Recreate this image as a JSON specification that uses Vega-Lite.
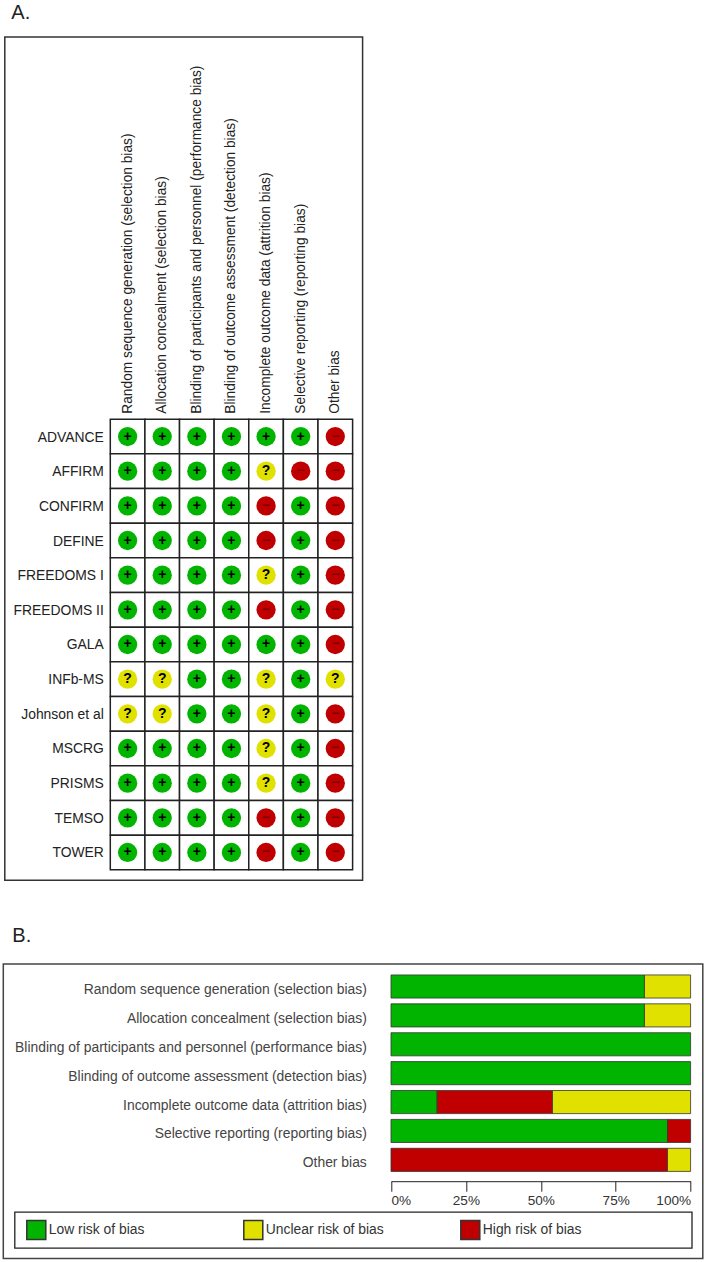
{
"$schema":"https://vega.github.io/schema/vega-lite/v6.json",
"padding":{"left":2.3,"top":3,"right":0,"bottom":0},
"background":"white",
"spacing":44,
"resolve":{"scale":{"color":"independent","fill":"independent"},"legend":{"color":"independent"}},
"config":{"view":{"stroke":null},"font":"Liberation Sans"},
"datasets":{
"box":[{"a":0,"b":1}],
"judge":[
{"s":"ADVANCE","d":"Random sequence generation (selection bias)","r":"+"},{"s":"ADVANCE","d":"Allocation concealment (selection bias)","r":"+"},{"s":"ADVANCE","d":"Blinding of participants and personnel (performance bias)","r":"+"},{"s":"ADVANCE","d":"Blinding of outcome assessment (detection bias)","r":"+"},{"s":"ADVANCE","d":"Incomplete outcome data (attrition bias)","r":"+"},{"s":"ADVANCE","d":"Selective reporting (reporting bias)","r":"+"},{"s":"ADVANCE","d":"Other bias","r":"−"},
{"s":"AFFIRM","d":"Random sequence generation (selection bias)","r":"+"},{"s":"AFFIRM","d":"Allocation concealment (selection bias)","r":"+"},{"s":"AFFIRM","d":"Blinding of participants and personnel (performance bias)","r":"+"},{"s":"AFFIRM","d":"Blinding of outcome assessment (detection bias)","r":"+"},{"s":"AFFIRM","d":"Incomplete outcome data (attrition bias)","r":"?"},{"s":"AFFIRM","d":"Selective reporting (reporting bias)","r":"−"},{"s":"AFFIRM","d":"Other bias","r":"−"},
{"s":"CONFIRM","d":"Random sequence generation (selection bias)","r":"+"},{"s":"CONFIRM","d":"Allocation concealment (selection bias)","r":"+"},{"s":"CONFIRM","d":"Blinding of participants and personnel (performance bias)","r":"+"},{"s":"CONFIRM","d":"Blinding of outcome assessment (detection bias)","r":"+"},{"s":"CONFIRM","d":"Incomplete outcome data (attrition bias)","r":"−"},{"s":"CONFIRM","d":"Selective reporting (reporting bias)","r":"+"},{"s":"CONFIRM","d":"Other bias","r":"−"},
{"s":"DEFINE","d":"Random sequence generation (selection bias)","r":"+"},{"s":"DEFINE","d":"Allocation concealment (selection bias)","r":"+"},{"s":"DEFINE","d":"Blinding of participants and personnel (performance bias)","r":"+"},{"s":"DEFINE","d":"Blinding of outcome assessment (detection bias)","r":"+"},{"s":"DEFINE","d":"Incomplete outcome data (attrition bias)","r":"−"},{"s":"DEFINE","d":"Selective reporting (reporting bias)","r":"+"},{"s":"DEFINE","d":"Other bias","r":"−"},
{"s":"FREEDOMS I","d":"Random sequence generation (selection bias)","r":"+"},{"s":"FREEDOMS I","d":"Allocation concealment (selection bias)","r":"+"},{"s":"FREEDOMS I","d":"Blinding of participants and personnel (performance bias)","r":"+"},{"s":"FREEDOMS I","d":"Blinding of outcome assessment (detection bias)","r":"+"},{"s":"FREEDOMS I","d":"Incomplete outcome data (attrition bias)","r":"?"},{"s":"FREEDOMS I","d":"Selective reporting (reporting bias)","r":"+"},{"s":"FREEDOMS I","d":"Other bias","r":"−"},
{"s":"FREEDOMS II","d":"Random sequence generation (selection bias)","r":"+"},{"s":"FREEDOMS II","d":"Allocation concealment (selection bias)","r":"+"},{"s":"FREEDOMS II","d":"Blinding of participants and personnel (performance bias)","r":"+"},{"s":"FREEDOMS II","d":"Blinding of outcome assessment (detection bias)","r":"+"},{"s":"FREEDOMS II","d":"Incomplete outcome data (attrition bias)","r":"−"},{"s":"FREEDOMS II","d":"Selective reporting (reporting bias)","r":"+"},{"s":"FREEDOMS II","d":"Other bias","r":"−"},
{"s":"GALA","d":"Random sequence generation (selection bias)","r":"+"},{"s":"GALA","d":"Allocation concealment (selection bias)","r":"+"},{"s":"GALA","d":"Blinding of participants and personnel (performance bias)","r":"+"},{"s":"GALA","d":"Blinding of outcome assessment (detection bias)","r":"+"},{"s":"GALA","d":"Incomplete outcome data (attrition bias)","r":"+"},{"s":"GALA","d":"Selective reporting (reporting bias)","r":"+"},{"s":"GALA","d":"Other bias","r":"−"},
{"s":"INFb-MS","d":"Random sequence generation (selection bias)","r":"?"},{"s":"INFb-MS","d":"Allocation concealment (selection bias)","r":"?"},{"s":"INFb-MS","d":"Blinding of participants and personnel (performance bias)","r":"+"},{"s":"INFb-MS","d":"Blinding of outcome assessment (detection bias)","r":"+"},{"s":"INFb-MS","d":"Incomplete outcome data (attrition bias)","r":"?"},{"s":"INFb-MS","d":"Selective reporting (reporting bias)","r":"+"},{"s":"INFb-MS","d":"Other bias","r":"?"},
{"s":"Johnson et al","d":"Random sequence generation (selection bias)","r":"?"},{"s":"Johnson et al","d":"Allocation concealment (selection bias)","r":"?"},{"s":"Johnson et al","d":"Blinding of participants and personnel (performance bias)","r":"+"},{"s":"Johnson et al","d":"Blinding of outcome assessment (detection bias)","r":"+"},{"s":"Johnson et al","d":"Incomplete outcome data (attrition bias)","r":"?"},{"s":"Johnson et al","d":"Selective reporting (reporting bias)","r":"+"},{"s":"Johnson et al","d":"Other bias","r":"−"},
{"s":"MSCRG","d":"Random sequence generation (selection bias)","r":"+"},{"s":"MSCRG","d":"Allocation concealment (selection bias)","r":"+"},{"s":"MSCRG","d":"Blinding of participants and personnel (performance bias)","r":"+"},{"s":"MSCRG","d":"Blinding of outcome assessment (detection bias)","r":"+"},{"s":"MSCRG","d":"Incomplete outcome data (attrition bias)","r":"?"},{"s":"MSCRG","d":"Selective reporting (reporting bias)","r":"+"},{"s":"MSCRG","d":"Other bias","r":"−"},
{"s":"PRISMS","d":"Random sequence generation (selection bias)","r":"+"},{"s":"PRISMS","d":"Allocation concealment (selection bias)","r":"+"},{"s":"PRISMS","d":"Blinding of participants and personnel (performance bias)","r":"+"},{"s":"PRISMS","d":"Blinding of outcome assessment (detection bias)","r":"+"},{"s":"PRISMS","d":"Incomplete outcome data (attrition bias)","r":"?"},{"s":"PRISMS","d":"Selective reporting (reporting bias)","r":"+"},{"s":"PRISMS","d":"Other bias","r":"−"},
{"s":"TEMSO","d":"Random sequence generation (selection bias)","r":"+"},{"s":"TEMSO","d":"Allocation concealment (selection bias)","r":"+"},{"s":"TEMSO","d":"Blinding of participants and personnel (performance bias)","r":"+"},{"s":"TEMSO","d":"Blinding of outcome assessment (detection bias)","r":"+"},{"s":"TEMSO","d":"Incomplete outcome data (attrition bias)","r":"−"},{"s":"TEMSO","d":"Selective reporting (reporting bias)","r":"+"},{"s":"TEMSO","d":"Other bias","r":"−"},
{"s":"TOWER","d":"Random sequence generation (selection bias)","r":"+"},{"s":"TOWER","d":"Allocation concealment (selection bias)","r":"+"},{"s":"TOWER","d":"Blinding of participants and personnel (performance bias)","r":"+"},{"s":"TOWER","d":"Blinding of outcome assessment (detection bias)","r":"+"},{"s":"TOWER","d":"Incomplete outcome data (attrition bias)","r":"−"},{"s":"TOWER","d":"Selective reporting (reporting bias)","r":"+"},{"s":"TOWER","d":"Other bias","r":"−"}
],
"summary":[
{"d":"Random sequence generation (selection bias)","risk":"Low risk of bias","share":0.846,"rank":1},{"d":"Random sequence generation (selection bias)","risk":"Unclear risk of bias","share":0.154,"rank":3},
{"d":"Allocation concealment (selection bias)","risk":"Low risk of bias","share":0.846,"rank":1},{"d":"Allocation concealment (selection bias)","risk":"Unclear risk of bias","share":0.154,"rank":3},
{"d":"Blinding of participants and personnel (performance bias)","risk":"Low risk of bias","share":1,"rank":1},
{"d":"Blinding of outcome assessment (detection bias)","risk":"Low risk of bias","share":1,"rank":1},
{"d":"Incomplete outcome data (attrition bias)","risk":"Low risk of bias","share":0.154,"rank":1},{"d":"Incomplete outcome data (attrition bias)","risk":"High risk of bias","share":0.385,"rank":2},{"d":"Incomplete outcome data (attrition bias)","risk":"Unclear risk of bias","share":0.461,"rank":3},
{"d":"Selective reporting (reporting bias)","risk":"Low risk of bias","share":0.923,"rank":1},{"d":"Selective reporting (reporting bias)","risk":"High risk of bias","share":0.077,"rank":2},
{"d":"Other bias","risk":"High risk of bias","share":0.923,"rank":2},{"d":"Other bias","risk":"Unclear risk of bias","share":0.077,"rank":3}
]
},
"vconcat":[
{
"width":360,"height":844,
"title":{"text":"A.","anchor":"start","frame":"group","dx":8,"offset":13,"font":"Liberation Sans","fontSize":20,"fontWeight":"normal","color":"#222222"},
"resolve":{"scale":{"x":"independent","y":"independent"}},
"layer":[
{"data":{"name":"box"},
"mark":{"type":"rect","fill":null,"stroke":"#333333","strokeWidth":1.5},
"encoding":{
"x":{"field":"a","type":"quantitative","axis":null,"scale":{"domain":[0,1],"range":[1.5,359.3]}},
"x2":{"field":"b"},
"y":{"field":"a","type":"quantitative","axis":null,"scale":{"domain":[0,1],"range":[0,843.2]}},
"y2":{"field":"b"}}},
{"data":{"name":"judge"},
"encoding":{
"x":{"field":"d","type":"nominal","sort":null,"scale":{"type":"band","range":[107,349.3],"paddingInner":0,"paddingOuter":0},
"axis":{"orient":"top","offset":-382.2,"title":null,"domain":false,"ticks":false,"labelAngle":-90,"labelPadding":6,"labelLimit":400,"labelFontSize":13.75,"labelColor":"#222222"}},
"y":{"field":"s","type":"nominal","sort":null,"scale":{"type":"band","range":[382.2,832.8],"paddingInner":0,"paddingOuter":0},
"axis":{"orient":"left","offset":-107,"title":null,"domain":false,"ticks":false,"labelPadding":7,"labelOffset":1,"labelFontSize":13.9,"labelColor":"#222222","labelLimit":200}}
},
"layer":[
{"mark":{"type":"rect","fill":"white","stroke":"#222222","strokeWidth":1.5}},
{"mark":{"type":"point","shape":"circle","filled":true,"opacity":1,"size":372},
"encoding":{"fill":{"field":"r","type":"nominal","legend":null,"scale":{"domain":["+","?","−"],"range":["#00B400","#E1E100","#C00000"]}}}},
{"mark":{"type":"text","fontSize":14,"fontWeight":"bold","baseline":"middle","align":"center"},
"encoding":{"text":{"field":"r","type":"nominal"},
"color":{"field":"r","type":"nominal","legend":null,"scale":{"domain":["+","?","−"],"range":["#000000","#000000","#800000"]}}}}
]}
]
},
{
"width":699.5,"height":294.5,
"view":{"stroke":"#444444","strokeWidth":1.5},
"title":{"text":"B.","anchor":"start","frame":"group","dx":9,"offset":18,"font":"Liberation Sans","fontSize":20,"fontWeight":"normal","color":"#222222"},
"resolve":{"scale":{"x":"independent","y":"independent"}},
"layer":[
{"data":{"name":"box"},
"mark":{"type":"rect","fill":null,"stroke":"#222222","strokeWidth":1.3},
"encoding":{
"x":{"field":"a","type":"quantitative","axis":null,"scale":{"domain":[0,1],"range":[11.5,688.7]}},
"x2":{"field":"b"},
"y":{"field":"a","type":"quantitative","axis":null,"scale":{"domain":[0,1],"range":[248.2,284.2]}},
"y2":{"field":"b"}}},
{"data":{"name":"summary"},
"mark":{"type":"bar","stroke":"#333333","strokeWidth":0.8},
"encoding":{
"x":{"field":"share","type":"quantitative","stack":"zero","scale":{"domain":[0,1],"range":[387.7,687.3],"nice":false},
"axis":{"orient":"bottom","offset":-77.3,"title":null,"values":[0,0.25,0.5,0.75,1],"format":".0%","grid":false,"domain":true,"ticks":true,"domainColor":"#222222","tickColor":"#222222","tickSize":10,"labelColor":"#333333","labelFontSize":13.6,"labelPadding":2,"labelFlush":true,"labelOverlap":false,
"encoding":{"domain":{"update":{"y":{"value":5},"y2":{"value":5}}}}}},
"y":{"field":"d","type":"nominal","sort":null,"scale":{"type":"band","range":[8.05,210.3],"paddingInner":0.2,"paddingOuter":0.1},
"axis":{"orient":"left","offset":-387.7,"title":null,"domain":false,"ticks":false,"labelPadding":24.7,"labelOffset":3.5,"labelFontSize":13.9,"labelColor":"#444444","labelLimit":400}},
"color":{"field":"risk","type":"nominal","scale":{"domain":["Low risk of bias","Unclear risk of bias","High risk of bias"],"range":["#00B400","#E1E100","#C00000"]},
"legend":{"orient":"none","legendX":22.5,"legendY":255.5,"direction":"horizontal","columns":3,"title":null,"symbolType":"square","symbolSize":361,"symbolStrokeColor":"#333333","labelFontSize":13.9,"labelColor":"#333333","labelOffset":2,"columnPadding":73,"gridAlign":"all","labelLimit":200,"padding":0}},
"order":{"field":"rank","type":"ordinal"}
}}
]
}
]
}
